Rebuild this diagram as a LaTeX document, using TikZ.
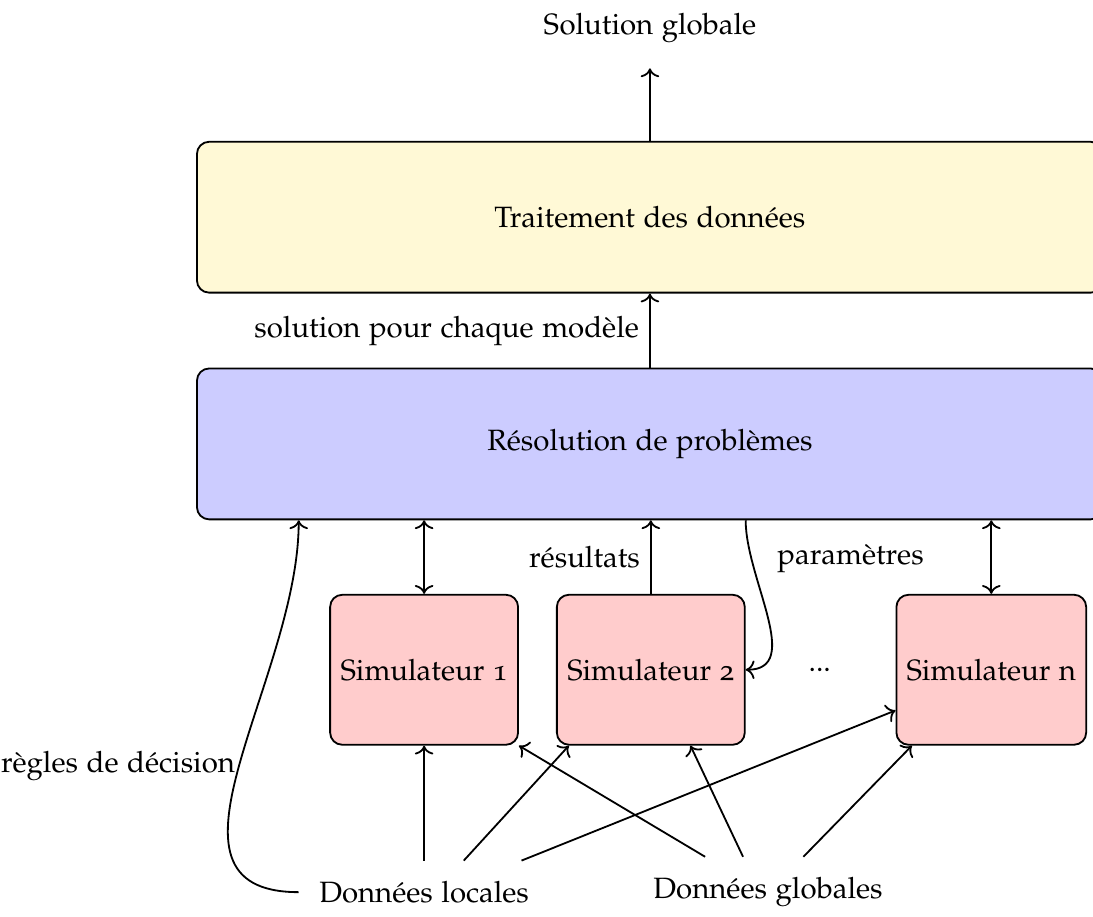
\documentclass[tikz,border=0pt]{standalone}
\usepackage[T1]{fontenc}
\usepackage[osf]{mathpazo}
\usetikzlibrary{positioning, calc, arrows.meta}
\definecolor{traitfill}{RGB}{255,249,214}
\tikzset{
  bigbox/.style={
  rectangle,
  draw=black,
  rounded corners,
  minimum width=10.51cm,
  minimum height=1.75cm
  },
  simbox/.style={
  rectangle,
  draw=black,
  fill=red!20,
  rounded corners,
  minimum width=2.18cm,
  minimum height=1.74cm
  },
  data/.style={
  inner sep=6.5pt
  },
  arrow/.style={
  ->
  },
  dblarrow/.style={
  <->
  }
}

\begin{document}
\begin{tikzpicture}[semithick, font=\fontsize{9.7pt}{11.6pt}\selectfont]
\useasboundingbox (0,0) rectangle (12.68,-10.63);

% Nodes
\node (sortie) [data, inner sep=8pt] at (7.54,-0.33) {Solution globale};
\node (traitement) [bigbox, fill=traitfill] at (7.54,-2.52) {Traitement des donn\'ees};
\node (resolution) [bigbox, fill=blue!20] at (7.54,-5.15) {R\'esolution de probl\`emes};

\node (sim1) [simbox] at (4.92,-7.77) {Simulateur 1};
\node (sim2) [simbox] at (7.55,-7.77) {Simulateur 2};
\node (dots) at (9.51,-7.77) {...};
\node (simn) [simbox] at (11.50,-7.77) {Simulateur n};

\node (locales) [data] at (4.92,-10.35) {Donn\'ees locales};
\node (globales) [data] at (8.91,-10.35) {Donn\'ees globales};

% Arrows
\draw [arrow] (traitement) -- (sortie);
\draw [arrow] (resolution) -- node[left] {solution pour chaque mod\`ele} (traitement);

\draw [dblarrow] (sim1) -- (resolution.south -| sim1.north);
\draw [arrow] (sim2) -- node[left] {r\'esultats} (resolution.south -| sim2.north);
\draw [dblarrow] (simn) -- (resolution.south -| simn.north);

\draw [arrow] (resolution.south -| sim2.east) to[out=-90,in=0] node[pos=0.2, right=5pt] {param\`etres} (sim2.east);
\draw [arrow] (locales.west) to[out=180,in=-90,looseness=1.1] node[left,pos=0.5,inner sep=1pt] {r\`egles de d\'ecision} (resolution.south -| locales.west);

% Data arrows
\draw [arrow] (locales) -- (sim1);
\draw [arrow] ($(locales.north)+(0.46,0)$) -- ($(sim2.south west)+(0.15,0)$);
\draw [arrow] ($(locales.north)+(1.13,0)$) -- (simn.-157);
\draw [arrow] ($(globales.north)+(-0.73,0)$) -- (sim1.south east);
\draw [arrow] ($(globales.north)+(-0.29,0)$) -- ($(sim2.south)+(0.46,0)$);
\draw [arrow] ($(globales.north)+(0.41,0)$) -- ($(simn.south west)+(0.19,0)$);

\end{tikzpicture}
\end{document}
